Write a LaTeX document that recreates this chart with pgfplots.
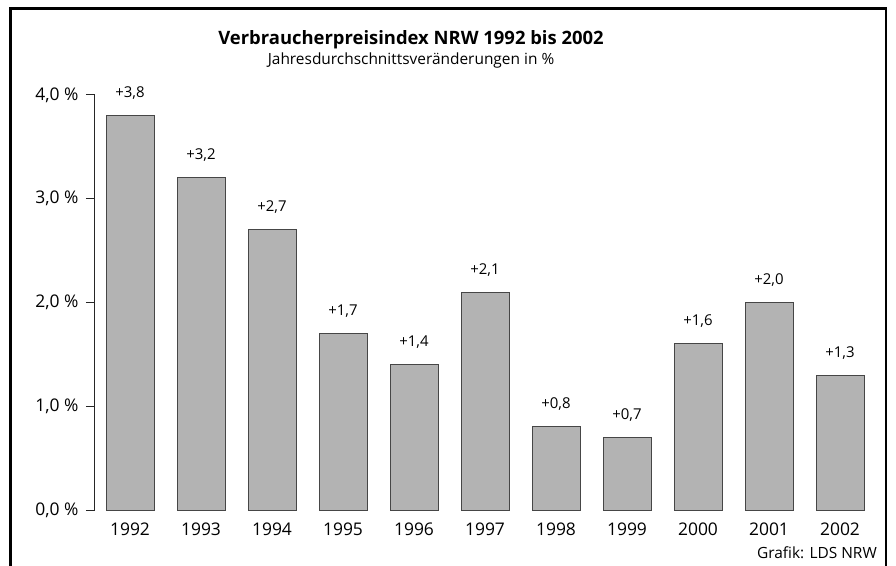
\documentclass[border=0pt]{standalone}
\usepackage{pgfplots}
\pgfplotsset{compat=1.18}
\usepackage{fontspec}
\setmainfont{Open Sans}
\definecolor{barfill}{RGB}{179,179,179}
\definecolor{baredge}{RGB}{70,70,70}
\begin{document}
\begin{tikzpicture}
\useasboundingbox (-95bp,-56bp) rectangle (801bp,510bp);
\begin{axis}[
  at={(0bp,0bp)}, anchor=south west,
  scale only axis,
  x=71bp, y=103.75bp,
  xmin=-0.493, xmax=10.6, ymin=0, ymax=4,
  axis lines*=left,
  axis line style={-, line width=1bp, black!85},
  x axis line style={draw=none},
  xtick={0,1,2,3,4,5,6,7,8,9,10},
  xticklabels={1992,1993,1994,1995,1996,1997,1998,1999,2000,2001,2002},
  ytick={0,1,2,3,4},
  yticklabels={{0,0 \%},{1,0 \%},{2,0 \%},{3,0 \%},{4,0 \%}},
  tick align=outside,
  major tick length=9bp,
  xtick style={draw=none},
  ytick style={line width=1bp, black!85},
  tick label style={font=\fontsize{17.5}{18}\selectfont},
  yticklabel style={xshift=-4bp},
  /pgf/number format/assume math mode=true,
  ybar, bar width=48bp,
  nodes near coords,
  point meta=explicit symbolic,
  nodes near coords style={font=\fontsize{15}{16}\selectfont, anchor=base, yshift=18bp},
  clip=false,
]
\addplot[fill=barfill, draw=baredge, line width=1bp] coordinates {
  (0,3.8) [+3,8]
  (1,3.2) [+3,2]
  (2,2.7) [+2,7]
  (3,1.7) [+1,7]
  (4,1.4) [+1,4]
  (5,2.1) [+2,1]
  (6,0.8) [+0,8]
  (7,0.7) [+0,7]
  (8,1.6) [+1,6]
  (9,2.0) [+2,0]
  (10,1.3) [+1,3]
};
\end{axis}
\draw[line width=2.5bp] (-84.5bp,-70bp) rectangle (791bp,501.7bp);
\node[font=\fontsize{18.5}{20}\selectfont\bfseries] at (316bp,470bp) {Verbraucherpreisindex NRW 1992 bis 2002};
\node[font=\fontsize{15.5}{16}\selectfont] at (316bp,450bp) {Jahresdurchschnittsveränderungen in \%};
\node[font=\fontsize{15.5}{16}\selectfont, anchor=east, inner sep=0pt] at (782bp,-43bp) {Grafik: LDS NRW};
\end{tikzpicture}
\end{document}
